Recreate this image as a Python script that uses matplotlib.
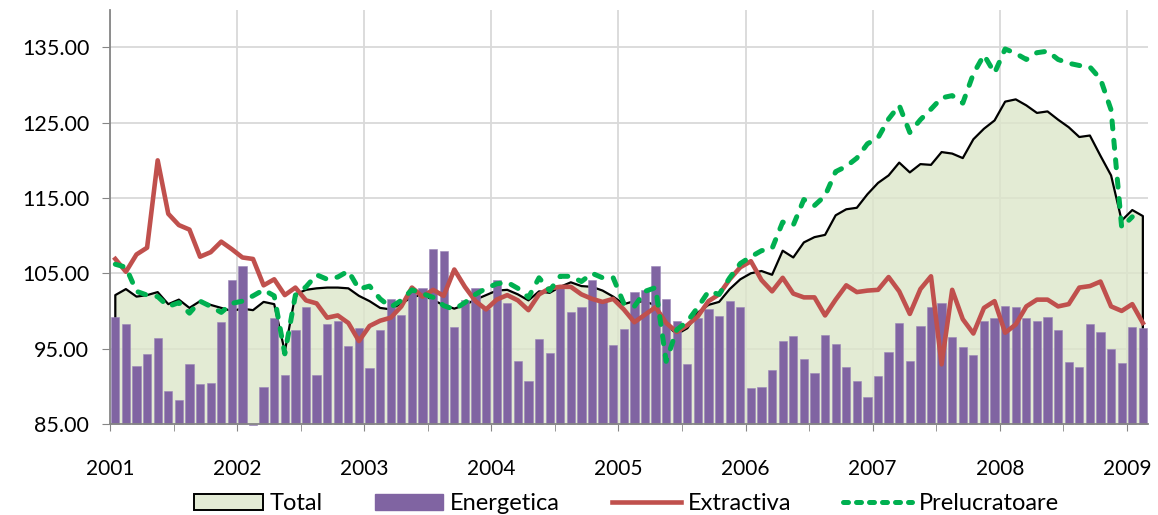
import numpy as np
import matplotlib.pyplot as plt
from matplotlib.patches import Patch
from matplotlib.lines import Line2D

plt.rcParams['font.family'] = ['Lato', 'DejaVu Sans']

# monthly index values, Jan 2001 - Feb 2009
energetica = [99.2, 98.3, 92.7, 94.3, 96.4, 89.4, 88.2, 92.9, 90.3, 90.4, 98.5, 104.1,
              106.0, 84.8, 89.9, 99.0, 91.5, 97.4, 100.5, 91.5, 98.3, 98.6, 95.4, 97.7,
              92.4, 97.4, 101.6, 99.5, 102.8, 103.0, 108.2, 107.9, 97.9, 101.5, 103.1, 100.2,
              104.1, 101.1, 93.4, 90.7, 96.3, 94.4, 103.2, 99.9, 100.5, 104.1, 101.3, 95.5,
              97.6, 102.5, 102.8, 106.0, 101.6, 98.6, 92.9, 99.0, 100.3, 99.3, 101.3, 100.5,
              89.7, 89.9, 92.2, 96.0, 96.7, 93.6, 91.7, 96.8, 95.6, 92.5, 90.7, 88.6,
              91.4, 94.5, 98.4, 93.3, 98.0, 100.5, 101.0, 96.5, 95.2, 94.1, 98.6, 99.0,
              100.7, 100.5, 99.1, 98.6, 99.2, 97.4, 93.2, 92.5, 98.3, 97.2, 95.0, 93.1,
              97.9, 97.7]

total = [102.1, 102.9, 101.9, 102.1, 102.5, 100.9, 101.5, 100.4, 101.3, 100.8, 100.4, 100.0,
         100.3, 100.1, 101.2, 100.9, 94.6, 102.2, 102.8, 103.0, 103.1, 103.1, 103.0, 102.0,
         101.3, 100.4, 100.2, 101.0, 101.8, 102.2, 101.4, 100.8, 100.3, 100.8, 101.5, 102.1,
         102.7, 102.8, 102.2, 101.4, 102.6, 102.4, 103.2, 103.8, 103.3, 103.2, 102.7, 101.9,
         100.9, 101.3, 101.2, 100.8, 98.2, 96.9, 97.7, 99.8, 100.8, 101.2, 102.9, 104.2,
         105.0, 105.3, 104.8, 108.0, 107.1, 109.1, 109.8, 110.1, 112.7, 113.5, 113.7, 115.5,
         117.0, 118.0, 119.7, 118.4, 119.5, 119.4, 121.1, 120.9, 120.3, 122.8, 124.2, 125.3,
         127.8, 128.1, 127.3, 126.3, 126.5, 125.4, 124.4, 123.1, 123.3, 120.6, 118.0, 112.0,
         113.4, 112.6]

extractiva = [106.9, 105.2, 107.5, 108.4, 120.0, 112.9, 111.4, 110.8, 107.2, 107.8, 109.2, 108.2,
              107.1, 106.9, 103.4, 104.2, 102.1, 103.1, 101.4, 101.0, 99.1, 99.4, 98.4, 96.0,
              98.0, 98.7, 99.1, 100.6, 103.1, 101.9, 102.8, 102.0, 105.5, 103.2, 101.3, 100.2,
              101.5, 102.1, 101.4, 100.1, 102.2, 103.0, 103.2, 103.2, 102.2, 101.6, 101.2, 101.6,
              100.2, 98.5, 99.5, 100.5, 98.4, 97.2, 98.1, 99.3, 101.3, 102.2, 104.2, 105.8,
              106.6, 104.1, 102.6, 104.4, 102.3, 101.8, 101.8, 99.4, 101.5, 103.4, 102.5, 102.7,
              102.8, 104.5, 102.6, 99.6, 102.9, 104.6, 92.9, 102.8, 98.9, 97.0, 100.4, 101.3,
              97.1, 98.2, 100.6, 101.5, 101.5, 100.6, 100.9, 103.1, 103.3, 103.9, 100.6, 100.0,
              100.9, 98.4]

# ends in Jan 2009
prelucratoare = [106.2, 105.8, 102.6, 102.1, 101.9, 100.6, 101.1, 99.7, 101.3, 100.6, 99.8, 101.0,
                 101.3, 102.0, 102.8, 102.0, 94.3, 102.1, 103.2, 104.8, 104.2, 104.5, 105.3, 102.9,
                 103.3, 101.6, 100.5, 101.4, 102.8, 102.3, 101.8, 100.7, 100.2, 101.1, 102.2, 103.0,
                 103.6, 103.8, 103.0, 101.8, 104.4, 102.7, 104.6, 104.6, 103.9, 105.0, 104.4, 104.4,
                 101.0, 100.6, 102.6, 103.1, 93.3, 97.5, 98.6, 100.5, 102.6, 102.2, 104.4, 106.3,
                 107.2, 108.0, 108.3, 111.8, 111.4, 114.8, 114.0, 115.3, 118.5, 119.2, 120.3, 122.2,
                 123.0, 125.5, 127.3, 123.7, 125.4, 126.8, 128.3, 128.6, 127.6, 131.5, 134.0, 131.6,
                 134.8, 134.2, 133.4, 134.3, 134.5, 133.4, 132.9, 132.6, 132.4, 130.8, 126.7, 111.1,
                 112.5]

years = list(range(2001, 2010))

n = len(total)
x = 2001 + (np.arange(n) + 0.5) / 12
base = 85

fig = plt.figure(figsize=(11.58, 5.15), dpi=100)
ax = fig.add_axes([0.095, 0.177, 0.8965, 0.804])

# area for total
ax.fill_between(x, base, total, facecolor='#dce6ca', alpha=0.8, lw=0, zorder=1)
outline_x = np.concatenate([[x[0]], x, [x[-1]]])
outline_y = np.concatenate([[base], total, [base]])
ax.plot(outline_x, outline_y, color='black', lw=1.6, zorder=1.5)

ax.bar(x, np.array(energetica) - base, bottom=base, width=0.78 / 12,
       color='#8064a2', edgecolor='#9a86b8', linewidth=0.4, zorder=2, clip_on=False)

ax.plot(x, extractiva, color='#c0504d', lw=3.3, solid_joinstyle='round', zorder=3)
ax.plot(x[:len(prelucratoare)], prelucratoare, color='#00b050', lw=3.6,
        dashes=(1.6, 2.3), dash_capstyle='round', zorder=4)

ax.set_xlim(2001, 2001 + n / 12)
ax.set_ylim(85, 140)
ax.set_yticks(np.arange(85, 136, 10))
ax.set_yticklabels([f'{v:.2f}' for v in np.arange(85, 136, 10)])
ax.set_xticks(years)
ax.set_xticklabels([str(y) for y in years])
ax.set_xticks(np.arange(2001.5, 2009.2, 1), minor=True)

ax.grid(True, color='#d9d9d9', lw=1.3, zorder=0)
ax.set_axisbelow(True)
for s in ['top', 'right']:
    ax.spines[s].set_visible(False)
for s in ['left', 'bottom']:
    ax.spines[s].set_color('#868686')
    ax.spines[s].set_linewidth(1.3)
    ax.spines[s].set_zorder(5)

ax.tick_params(axis='y', length=6, color='#868686', labelsize=15.5, pad=9)
ax.tick_params(axis='x', which='both', length=5, color='#868686', labelsize=15, pad=20)

handles = [Patch(facecolor='#e3ebd5', edgecolor='black', lw=1.4),
           Patch(facecolor='#8064a2', edgecolor='#8064a2'),
           Line2D([], [], color='#c0504d', lw=3.3),
           Line2D([], [], color='#00b050', lw=3.6, dashes=(1.0, 1.6), dash_capstyle='round')]
fig.legend(handles, ['Total', 'Energetica', 'Extractiva', 'Prelucratoare'],
           loc='center', bbox_to_anchor=(0.541, 0.022), ncol=4, frameon=False,
           fontsize=17, handlelength=2.9, handleheight=0.7, handletextpad=0.3,
           columnspacing=2.2, borderaxespad=0)

fig.savefig('out.png', dpi=100)
